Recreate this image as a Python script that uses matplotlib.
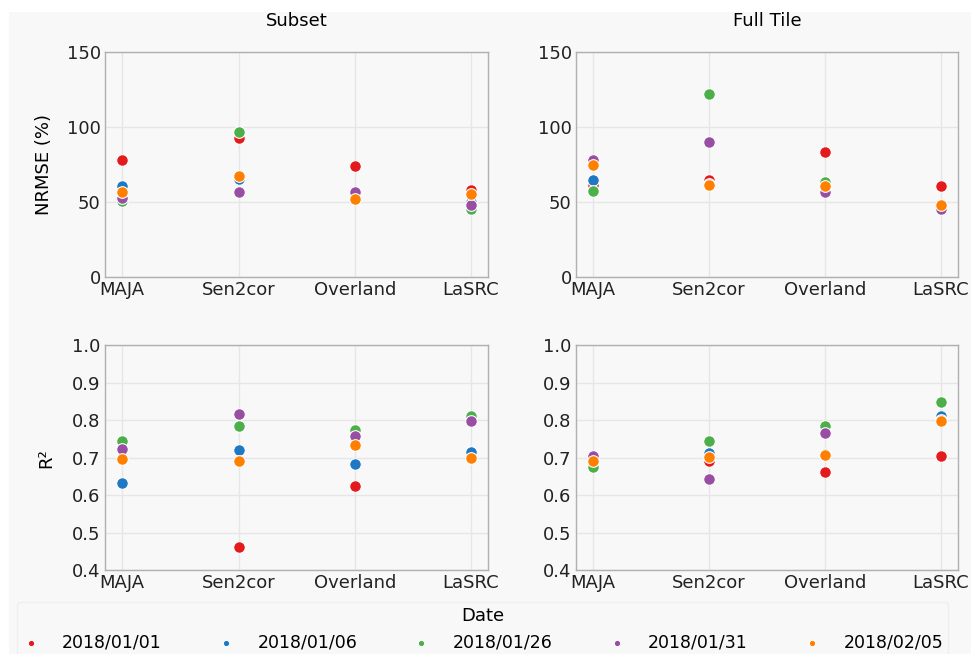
import numpy as np
import matplotlib
matplotlib.use("Agg")
import matplotlib.pyplot as plt
from matplotlib.patches import Rectangle

# processors on the x axis, dates as series
processors = ["MAJA", "Sen2cor", "Overland", "LaSRC"]
dates = ["2018/01/01", "2018/01/06", "2018/01/26", "2018/01/31", "2018/02/05"]
colors = ["#e41a1c", "#1f78c4", "#4daf4a", "#984ea3", "#ff7f00"]

# NRMSE (%) - rows follow dates, columns follow processors
nrmse_subset = [
    [78.5, 92.7, 74.1, 58.4],
    [60.9, 65.5, 55.0, 50.0],
    [50.8, 96.6, 53.5, 45.8],
    [53.0, 57.0, 57.2, 48.0],
    [56.8, 67.3, 52.2, 55.4],
]
nrmse_full = [
    [61.8, 65.0, 83.8, 60.6],
    [65.2, 62.0, 60.0, 47.0],
    [57.7, 122.0, 63.4, 46.0],
    [78.3, 90.2, 57.2, 45.3],
    [75.0, 61.3, 61.1, 48.0],
]

# R2
r2_subset = [
    [0.698, 0.462, 0.626, 0.702],
    [0.632, 0.720, 0.683, 0.716],
    [0.744, 0.786, 0.775, 0.811],
    [0.724, 0.817, 0.757, 0.798],
    [0.696, 0.692, 0.735, 0.700],
]
r2_full = [
    [0.690, 0.692, 0.663, 0.704],
    [0.688, 0.713, 0.710, 0.811],
    [0.675, 0.744, 0.786, 0.848],
    [0.706, 0.643, 0.766, 0.800],
    [0.692, 0.703, 0.707, 0.798],
]

bg = "#f8f8f8"
plt.rcParams["font.family"] = "DejaVu Sans"
plt.rcParams["font.size"] = 13

fig = plt.figure(figsize=(9.71, 6.54), dpi=100, facecolor=bg)

# white margin at top and left of the original screenshot
fig.patches.append(Rectangle((0, 1 - 12 / 654), 1, 12 / 654, transform=fig.transFigure,
                             facecolor="white", edgecolor="none", zorder=0))
fig.patches.append(Rectangle((0, 0), 9 / 971, 1, transform=fig.transFigure,
                             facecolor="white", edgecolor="none", zorder=0))

ax_pos = {
    (0, 0): [0.108, 0.576, 0.395, 0.344],
    (0, 1): [0.593, 0.576, 0.394, 0.344],
    (1, 0): [0.108, 0.128, 0.395, 0.344],
    (1, 1): [0.593, 0.128, 0.394, 0.344],
}
panels = {
    (0, 0): nrmse_subset,
    (0, 1): nrmse_full,
    (1, 0): r2_subset,
    (1, 1): r2_full,
}

x = np.arange(len(processors))
handles = []
for (r, c), data in panels.items():
    ax = fig.add_axes(ax_pos[(r, c)])
    ax.set_facecolor(bg)
    for i, d in enumerate(dates):
        h = ax.scatter(x, data[i], s=70, color=colors[i], edgecolor="white",
                       linewidth=0.8, zorder=3, label=d)
        if r == 0 and c == 0:
            handles.append(h)
    ax.set_xlim(-0.15, 3.15)
    ax.set_xticks(x)
    ax.set_xticklabels(processors)
    if r == 0:
        ax.set_ylim(0, 150)
        ax.set_yticks([0, 50, 100, 150])
        ax.set_title("Subset" if c == 0 else "Full Tile", pad=19, fontsize=13)
        if c == 0:
            ax.set_ylabel("NRMSE (%)", labelpad=10)
    else:
        ax.set_ylim(0.4, 1.0)
        ax.set_yticks(np.arange(0.4, 1.01, 0.1))
        ax.set_yticklabels([f"{v:.1f}" for v in np.arange(0.4, 1.01, 0.1)])
        if c == 0:
            ax.set_ylabel("R²", labelpad=12)
    ax.grid(True, color="#e6e6e6", linewidth=1.0, zorder=0)
    ax.set_axisbelow(True)
    for s in ax.spines.values():
        s.set_color("#b0b0b0")
        s.set_linewidth(1.0)
    ax.tick_params(length=0, pad=3, colors="#222222", labelsize=13)

leg = fig.legend(handles=handles, labels=dates, title="Date", ncol=5,
                 loc="upper center", bbox_to_anchor=(0.497, 0.08),
                 frameon=True, markerscale=0.55, fontsize=12.5, title_fontsize=13,
                 handlelength=1.0, handletextpad=1.3, columnspacing=3.2,
                 borderpad=0.3, borderaxespad=0)
leg.get_frame().set_facecolor(bg)
leg.get_frame().set_edgecolor("#ececec")

fig.savefig("out.png", dpi=100, facecolor=bg)
